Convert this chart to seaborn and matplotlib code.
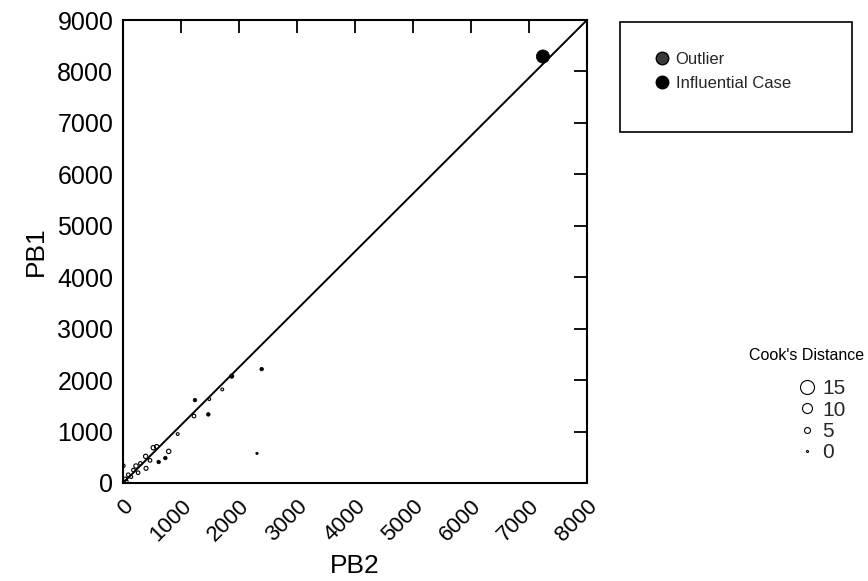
import matplotlib
matplotlib.use('Agg')
import matplotlib.pyplot as plt
import seaborn as sns
import pandas as pd
from matplotlib.lines import Line2D
from matplotlib.patches import Rectangle

# ---- data ----
pb2 = [7240, 2391, 1874, 1712, 1488, 1241, 1471, 1224, 943, 2310,
       581, 523, 788, 391, 730, 615, 466, 224, 397, 5,
       40, 90, 140, 180, 260, 60, 300]
pb1 = [8290, 2214, 2078, 1819, 1631, 1612, 1333, 1301, 951, 576,
       705, 686, 615, 518, 485, 408, 440, 330, 285, 336,
       80, 160, 120, 250, 200, 30, 380]
cooks = [14, 2, 3, 1, 1, 2, 2, 2, 1, 0.5,
         3, 3, 3, 3, 2, 2, 2, 3, 2.5, 2,
         2, 2, 1.5, 2, 2, 1.5, 2]
case_type = ['Influential Case', 'Influential Case', 'Influential Case', 'Normal', 'Normal',
             'Influential Case', 'Influential Case', 'Normal', 'Normal', 'Influential Case',
             'Normal', 'Normal', 'Normal', 'Normal', 'Influential Case',
             'Influential Case', 'Normal', 'Normal', 'Normal', 'Normal',
             'Normal', 'Normal', 'Normal', 'Normal', 'Normal', 'Normal', 'Normal']

x_ticks = [0, 1000, 2000, 3000, 4000, 5000, 6000, 7000, 8000]
y_ticks = [0, 1000, 2000, 3000, 4000, 5000, 6000, 7000, 8000, 9000]
ref_line_x = [0, 8000]
ref_line_y = [0, 9000]
cook_legend_values = [15, 10, 5, 0]
type_legend = ['Outlier', 'Influential Case']

sns.set_theme(style='white')
plt.rcParams['font.family'] = ['Liberation Sans', 'DejaVu Sans']

df = pd.DataFrame(dict(PB2=pb2, PB1=pb1, cook=cooks, kind=case_type))


def diam_pt(c):
    return (0.8 * c + 2) * 72 / 100


def area(c):
    return diam_pt(c) ** 2


fig = plt.figure(figsize=(8.68, 5.81), dpi=100)
ax = fig.add_axes([123 / 868, 1 - 483 / 581, (587 - 123) / 868, (483 - 20) / 581])

ax.plot(ref_line_x, ref_line_y, color='black', lw=1.4, zorder=1)

normal = df[df.kind == 'Normal']
infl = df[df.kind == 'Influential Case']
sns.scatterplot(data=normal, x='PB2', y='PB1', s=area(normal.cook.values),
                facecolor='none', edgecolor='black', linewidth=0.8,
                ax=ax, legend=False, zorder=3)
sns.scatterplot(data=infl, x='PB2', y='PB1', s=area(infl.cook.values),
                color='black', edgecolor='black', linewidth=0.5,
                ax=ax, legend=False, zorder=3)

ax.set_xlim(x_ticks[0], x_ticks[-1])
ax.set_ylim(y_ticks[0], y_ticks[-1])
ax.set_xticks(x_ticks)
ax.set_yticks(y_ticks)
ax.set_xticklabels([str(t) for t in x_ticks], rotation=45, ha='right',
                   va='top', rotation_mode='anchor')
ax.tick_params(direction='in', length=9.5, width=1.3, top=True, right=True,
               labelsize=18, colors='black', pad=7)
ax.tick_params(axis='x', pad=9, labelsize=16)
for sp in ax.spines.values():
    sp.set_color('black')
    sp.set_linewidth(1.5)
ax.set_xlabel('PB2', fontsize=19, color='black', va='top')
ax.xaxis.set_label_coords(0.5, -(554 - 483) / 463)
ax.set_ylabel('PB1', fontsize=19, labelpad=7, color='black')

# type legend with large box
fig.patches.append(Rectangle((620 / 868, 1 - 132 / 581), (852 - 620) / 868, (132 - 22) / 581,
                             transform=fig.transFigure, fill=False, ec='black', lw=1.2))
h_type = [Line2D([], [], marker='o', ls='none', mfc='#3a3a3a', mec='black', markersize=9),
          Line2D([], [], marker='o', ls='none', mfc='black', mec='black', markersize=9)]
fig.legend(h_type, type_legend, loc='upper left', bbox_to_anchor=(654 / 868, 1 - 52 / 581),
           frameon=False, fontsize=12, handletextpad=0.3, labelspacing=0.55,
           handlelength=1, borderpad=0, borderaxespad=0)

# Cook's distance legend
fig.text(749 / 868, 1 - 355 / 581, "Cook's Distance", fontsize=11.5,
         ha='left', va='center', color='black')
h_cook = [Line2D([], [], marker='o', ls='none', mfc='none', mec='black',
                 markersize=diam_pt(v), mew=0.8) for v in cook_legend_values]
fig.legend(h_cook, [str(v) for v in cook_legend_values],
           loc='upper left', bbox_to_anchor=(797 / 868, 1 - 379 / 581),
           frameon=False, fontsize=15, handletextpad=0.2,
           labelspacing=0.12, handlelength=1, borderpad=0, borderaxespad=0)

fig.savefig('out.png', dpi=100)
